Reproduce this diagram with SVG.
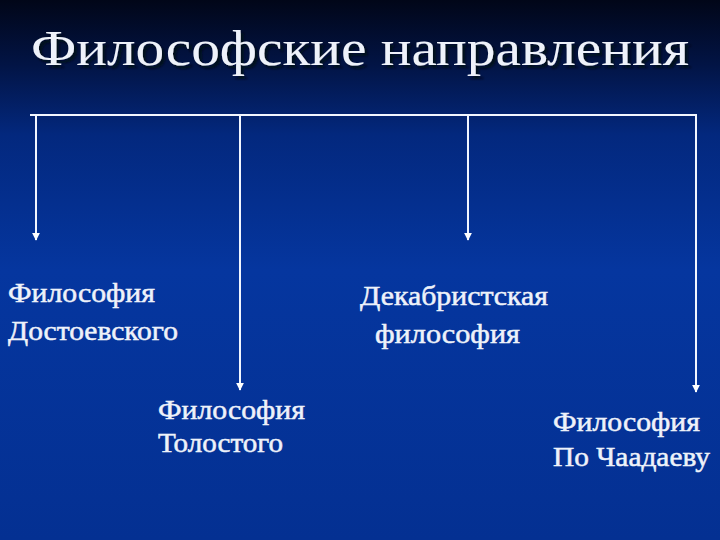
<svg xmlns="http://www.w3.org/2000/svg" width="720" height="540" viewBox="0 0 720 540">
<defs>
<linearGradient id="bg" x1="0" y1="0" x2="0" y2="1">
<stop offset="0" stop-color="#010618"/>
<stop offset="0.12" stop-color="#021445"/>
<stop offset="0.25" stop-color="#03287e"/>
<stop offset="0.5" stop-color="#05369f"/>
<stop offset="1" stop-color="#043092"/>
</linearGradient>
<filter id="sh" x="-5%" y="-20%" width="110%" height="150%">
<feDropShadow dx="3" dy="3" stdDeviation="0.8" flood-color="#000814" flood-opacity="0.9"/>
</filter>
<marker id="ah" viewBox="0 0 10 10" refX="9" refY="5" markerWidth="4" markerHeight="4" orient="auto" markerUnits="strokeWidth">
<path d="M0,0 L10,5 L0,10 Z" fill="#ffffff"/>
</marker>
<style>
.t{font-family:"Liberation Serif","Times New Roman",serif;fill:#eef2fa;}
.lbl{font-size:27px;stroke:#eef2fa;stroke-width:0.5;}
.ttl{font-size:50px;}
.c{stroke:#f2f6ff;stroke-width:2;fill:none;}
</style>
</defs>
<rect width="720" height="540" fill="url(#bg)"/>
<g id="title">
<text class="t ttl" x="31" y="65" filter="url(#sh)" textLength="658" lengthAdjust="spacingAndGlyphs">Философские направления</text>
</g>
<g id="connectors">
<path class="c" d="M30,115 H697"/>
<path class="c" d="M36,115 V240" marker-end="url(#ah)"/>
<path class="c" d="M240,115 V390" marker-end="url(#ah)"/>
<path class="c" d="M468,115 V240" marker-end="url(#ah)"/>
<path class="c" d="M696,115 V392" marker-end="url(#ah)"/>
</g>
<g id="dostoevsky">
<text class="t lbl" x="8" y="302" textLength="147" lengthAdjust="spacingAndGlyphs">Философия</text>
<text class="t lbl" x="8" y="340" textLength="170" lengthAdjust="spacingAndGlyphs">Достоевского</text>
</g>
<g id="tolstoy">
<text class="t lbl" x="158" y="419" textLength="147" lengthAdjust="spacingAndGlyphs">Философия</text>
<text class="t lbl" x="158" y="452" textLength="125" lengthAdjust="spacingAndGlyphs">Толостого</text>
</g>
<g id="decembrist">
<text class="t lbl" x="360" y="305" textLength="188" lengthAdjust="spacingAndGlyphs">Декабристская</text>
<text class="t lbl" x="375" y="343" textLength="145" lengthAdjust="spacingAndGlyphs">философия</text>
</g>
<g id="chaadaev">
<text class="t lbl" x="553" y="431" textLength="147" lengthAdjust="spacingAndGlyphs">Философия</text>
<text class="t lbl" x="553" y="466" textLength="157" lengthAdjust="spacingAndGlyphs">По Чаадаеву</text>
</g>
</svg>
